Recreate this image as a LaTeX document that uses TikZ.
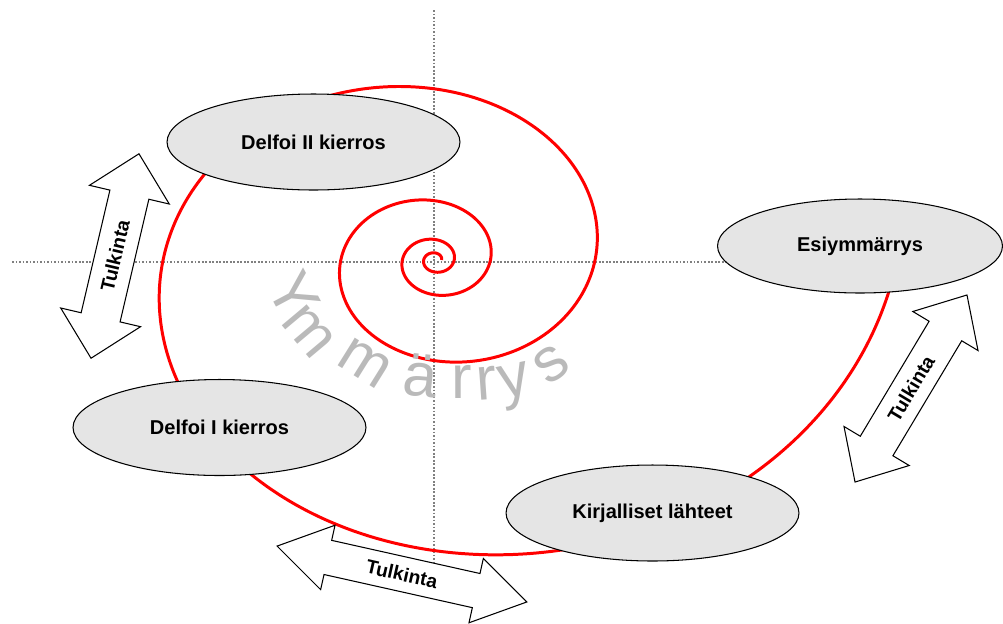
\documentclass[tikz,border=0pt]{standalone}
\usepackage{fontspec}
\setmainfont{Liberation Sans}
\usetikzlibrary{shapes.geometric}

\begin{document}
\begin{tikzpicture}[x=0.02cm, y=-0.02cm,
  phase/.style={ellipse, draw=black, line width=0.6pt, fill=black!10,
    minimum width=5.86cm, minimum height=1.92cm, inner sep=0pt,
    font=\bfseries\fontsize{11.4}{13}\selectfont},
  tulk/.style={draw=black, line width=0.6pt, fill=white, line join=miter},
  tulktext/.style={inner sep=0pt, font=\bfseries\fontsize{11}{13}\selectfont},
  guide/.style={densely dotted, black!50, line width=1pt}]
  \useasboundingbox (0,0) rectangle (1003,623);

  % Axes
  \draw[guide] (12,262) -- (860,262);
  \draw[guide] (434,10) -- (434,590);

  % Spiral
  \draw[red, line width=1.7pt] plot[domain=0:1440, samples=500, smooth, variable=\t]
    ({435+exp(1.895+0.0029444*\t)*cos(\t)}, {260-0.82*exp(1.895+0.0029444*\t)*sin(\t)});

  % Ymmarrys along the spiral
  \foreach \ch/\px/\py/\rot [count=\i] in {Y/279/302/-62, m/300/339/-50, m/359/373/-32,
      ä/419/392/-6, r/462/394/0, r/487/395/4, y/517/392/12, s/558/374/36}
    \node[font=\fontsize{35}{40}\selectfont, text=black!27, rotate=\rot,
      text height=1ex, text depth=0pt, inner sep=0pt] (ymm\i) at (\px,\py) {\ch};

  % Phases
  \node[phase] (delfoi2) at (313.5,142) {Delfoi II kierros};
  \node[phase] (delfoi1) at (219.5,427.5) {Delfoi I kierros};
  \node[phase] (lahteet) at (652.5,513) {Kirjalliset lähteet};
  \node[phase, minimum width=5.7cm, minimum height=1.88cm] (esiymm) at (860,246) {Esiymmärrys};

  % Tulkinta arrows: centre, angle, half length, half shaft, half head, head length
  \foreach \cx/\cy/\ang/\L/\s/\h/\a [count=\i] in {115/256/76.8/105/20/41/42,
      402/574/-12.6/128/17.5/33/52, 911/388.5/59.1/109/19/38/42}{
    \begin{scope}[shift={(\cx,\cy)}, rotate=\ang]
      \draw[tulk] (-\L,0) -- (-\L+\a,\h) -- (-\L+\a,\s) -- (\L-\a,\s) -- (\L-\a,\h)
        -- (\L,0) -- (\L-\a,-\h) -- (\L-\a,-\s) -- (-\L+\a,-\s) -- (-\L+\a,-\h) -- cycle;
      \node[tulktext, rotate=\ang] (tulk\i) at (0,0) {Tulkinta};
    \end{scope}
  }
\end{tikzpicture}
\end{document}
